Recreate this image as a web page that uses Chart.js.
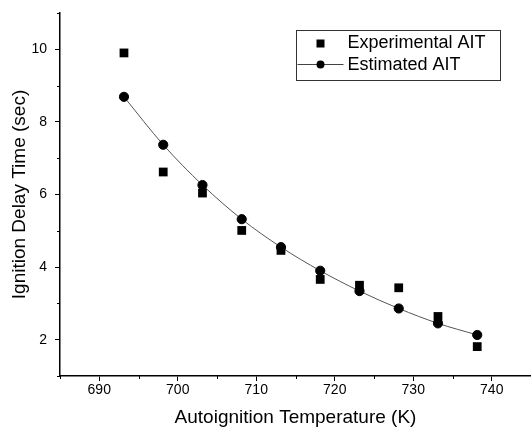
<!DOCTYPE html>
<html>
<head>
<meta charset="utf-8">
<script src="https://cdn.jsdelivr.net/npm/chart.js"></script>
<style>
  html, body { margin: 0; padding: 0; background: #fff; }
  #wrap { width: 531px; height: 427px; }
</style>
</head>
<body>
<div id="wrap"><canvas id="myChart"></canvas></div>
<script>
// temperatures in K (420..465 C)
const temps = [693.15, 698.15, 703.15, 708.15, 713.15, 718.15, 723.15, 728.15, 733.15, 738.15];
const experimental = [9.9, 6.62, 6.04, 5.01, 4.46, 3.66, 3.5, 3.43, 2.64, 1.81];
const estimated = [8.69, 7.37, 6.26, 5.32, 4.55, 3.9, 3.34, 2.86, 2.45, 2.13];
const xTicks = [690, 700, 710, 720, 730, 740];
const yTicks = [2, 4, 6, 8, 10];
const xMinorTicks = [685, 695, 705, 715, 725, 735, 745];
const yMinorTicks = [1, 3, 5, 7, 9, 11];
const legendLabels = ['Experimental AIT', 'Estimated AIT'];

const FONT = "'Liberation Sans', Arial, sans-serif";

const toPoints = (ys) => temps.map((t, i) => ({ x: t, y: ys[i] }));

// minor ticks + boxed legend inside the plot
const extras = {
  id: 'extras',
  afterDraw(chart) {
    const ctx = chart.ctx;
    const xs = chart.scales.x;
    const ys = chart.scales.y;
    const area = chart.chartArea;
    ctx.save();
    ctx.strokeStyle = '#000';
    ctx.lineWidth = 1;
    ctx.beginPath();
    xMinorTicks.forEach(v => {
      const px = Math.round(xs.getPixelForValue(v)) + 0.5;
      ctx.moveTo(px, area.bottom);
      ctx.lineTo(px, area.bottom + 3);
    });
    yMinorTicks.forEach(v => {
      const py = Math.round(ys.getPixelForValue(v)) + 0.5;
      ctx.moveTo(area.left, py);
      ctx.lineTo(area.left - 3, py);
    });
    ctx.stroke();

    // legend box
    const bx = 296.5, by = 30.5, bw = 204, bh = 50;
    ctx.strokeStyle = '#333';
    ctx.strokeRect(bx, by, bw, bh);
    ctx.fillStyle = '#000';
    ctx.font = '18px ' + FONT;
    ctx.textBaseline = 'middle';
    ctx.fillText(legendLabels[0], bx + 51, by + 13);
    ctx.fillText(legendLabels[1], bx + 51, by + 35);
    ctx.fillRect(bx + 20, by + 9, 8, 8);
    ctx.strokeStyle = '#444';
    ctx.beginPath();
    ctx.moveTo(bx + 1, by + 34);
    ctx.lineTo(bx + 47, by + 34);
    ctx.stroke();
    ctx.beginPath();
    ctx.arc(bx + 24, by + 34, 4, 0, Math.PI * 2);
    ctx.fill();
    ctx.restore();
  }
};

const data = {
  datasets: [
    {
      label: legendLabels[0],
      data: toPoints(experimental),
      pointStyle: 'rect',
      pointRadius: 6.2,
      backgroundColor: '#000',
      borderColor: '#000',
      borderWidth: 0,
      showLine: false,
    },
    {
      label: legendLabels[1],
      data: toPoints(estimated),
      pointStyle: 'circle',
      pointRadius: 4.6,
      pointBackgroundColor: '#000',
      pointBorderColor: '#000',
      borderColor: '#555',
      borderWidth: 1,
      showLine: true,
      cubicInterpolationMode: 'monotone',
    },
  ],
};

const config = {
  type: 'scatter',
  data: data,
  options: {
    responsive: true,
    maintainAspectRatio: false,
    animation: false,
    layout: { autoPadding: false, padding: { top: 13, right: 0, left: 0, bottom: 0 } },
    plugins: {
      legend: { display: false },
      tooltip: { enabled: false },
    },
    scales: {
      x: {
        type: 'linear',
        min: 685,
        max: 745,
        afterFit: (s) => { s.height = 51; s.paddingRight = 0; s.paddingLeft = 0; },
        afterBuildTicks: (s) => { s.ticks = xTicks.map(v => ({ value: v })); },
        ticks: {
          color: '#000',
          font: { family: FONT, size: 14 },
          padding: 1,
        },
        grid: { drawOnChartArea: false, drawTicks: true, tickLength: 5, color: '#000' },
        border: { display: true, color: '#000', width: 1.5 },
        title: {
          display: true,
          text: 'Autoignition Temperature (K)',
          color: '#000',
          font: { family: FONT, size: 19, lineHeight: 1 },
          padding: { top: 5, bottom: 0 },
        },
      },
      y: {
        type: 'linear',
        min: 1,
        max: 11,
        afterFit: (s) => { s.width = 60; s.paddingTop = 0; s.paddingBottom = 0; },
        afterBuildTicks: (s) => { s.ticks = yTicks.map(v => ({ value: v })); },
        ticks: {
          color: '#000',
          font: { family: FONT, size: 14 },
          padding: 8,
        },
        grid: { drawOnChartArea: false, drawTicks: true, tickLength: 5, color: '#000' },
        border: { display: true, color: '#000', width: 1.5 },
        title: {
          display: true,
          text: 'Ignition Delay Time (sec)',
          color: '#000',
          font: { family: FONT, size: 19 },
          padding: { top: 8, bottom: 2 },
        },
      },
    },
  },
  plugins: [extras],
};

const myChart = new Chart(document.getElementById('myChart'), config);
</script>
</body>
</html>
